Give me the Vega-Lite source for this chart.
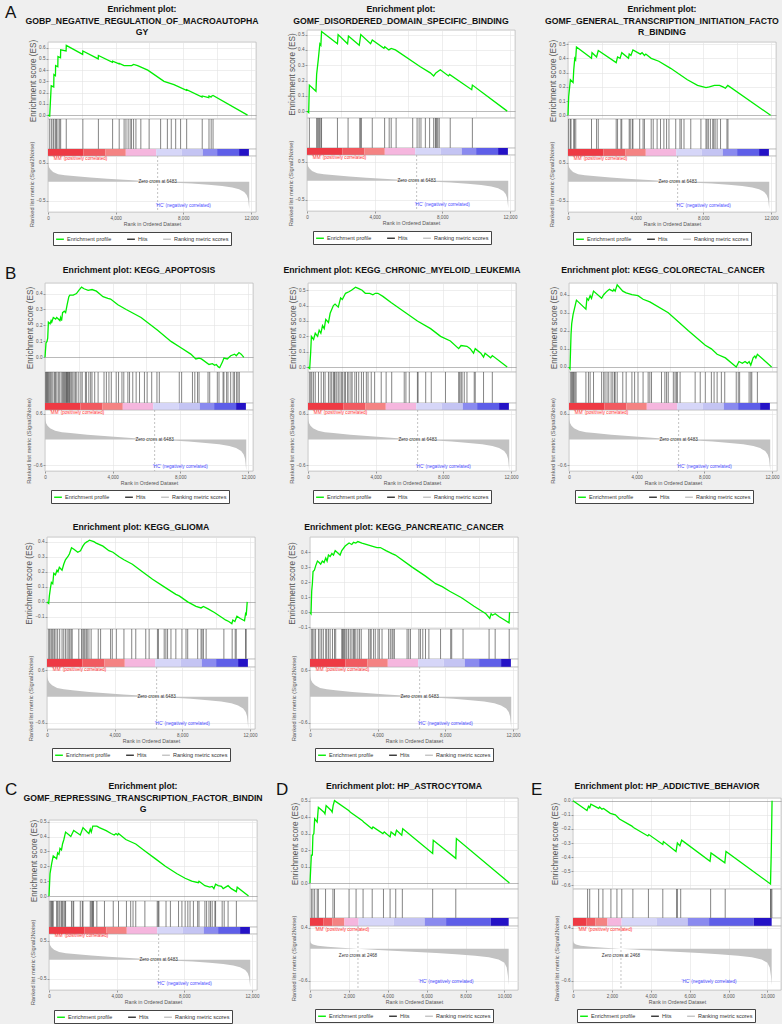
{
"$schema": "https://vega.github.io/schema/vega-lite/v6.json",
"background": "#efefef",
"padding": {"left": 4, "top": 3, "right": 0, "bottom": 0},
"spacing": 18,
"align": "none",
"config": {
  "font": "Liberation Sans",
  "view": {"stroke": "#a8a8a8", "strokeWidth": 0.6, "fill": "#ffffff"},
  "range": {"category": ["#00ee00", "#333333", "#c2c2c2"]},
  "axis": {"labelFontSize": 4.6, "labelColor": "#555555", "titleFontSize": 8.2, "titleColor": "#555555", "titleFontWeight": "normal", "gridColor": "#e2e2e2", "gridWidth": 0.6, "domain": false, "tickColor": "#999999", "tickSize": 2, "labelPadding": 1, "titlePadding": 1.5, "labelOverlap": false, "labelFlush": false},
  "title": {"fontSize": 8.7, "fontWeight": "bold", "lineHeight": 11.5, "offset": 5, "color": "#111111"},
  "legend": {"orient": "bottom", "direction": "horizontal", "symbolType": "stroke", "symbolSize": 60, "symbolStrokeWidth": 1.4, "labelFontSize": 5.5, "labelColor": "#333333", "strokeColor": "#444444", "fillColor": "#ffffff", "padding": 2, "offset": 4, "columnPadding": 12, "labelOffset": 2, "layout": {"bottom": {"anchor": "middle"}}}
},
"datasets": {
"cbar": [
{"g":"12k","a":0,"b":2100,"lv":1},{"g":"12k","a":2100,"b":3400,"lv":2},{"g":"12k","a":3400,"b":4600,"lv":3},{"g":"12k","a":4600,"b":6400,"lv":4},{"g":"12k","a":6400,"b":7900,"lv":5},{"g":"12k","a":7900,"b":9150,"lv":6},{"g":"12k","a":9150,"b":10000,"lv":7},{"g":"12k","a":10000,"b":11300,"lv":8},{"g":"12k","a":11300,"b":11880,"lv":9},
{"g":"10k","a":0,"b":700,"lv":1},{"g":"10k","a":700,"b":1150,"lv":2},{"g":"10k","a":1150,"b":1770,"lv":3},{"g":"10k","a":1770,"b":2500,"lv":4},{"g":"10k","a":2500,"b":4300,"lv":5},{"g":"10k","a":4300,"b":5900,"lv":6},{"g":"10k","a":5900,"b":7000,"lv":7},{"g":"10k","a":7000,"b":9300,"lv":8},{"g":"10k","a":9300,"b":10220,"lv":9}
],
"metric": [
{"g":"12k","r":0,"m":0.62},{"g":"12k","r":20,"m":0.46},{"g":"12k","r":60,"m":0.38},{"g":"12k","r":150,"m":0.32},{"g":"12k","r":300,"m":0.26},{"g":"12k","r":600,"m":0.2},{"g":"12k","r":1000,"m":0.17},{"g":"12k","r":1500,"m":0.15},{"g":"12k","r":2500,"m":0.11},{"g":"12k","r":3500,"m":0.08},{"g":"12k","r":4500,"m":0.05},{"g":"12k","r":5500,"m":0.025},{"g":"12k","r":6483,"m":0},{"g":"12k","r":7500,"m":-0.025},{"g":"12k","r":8500,"m":-0.05},{"g":"12k","r":9500,"m":-0.08},{"g":"12k","r":10300,"m":-0.11},{"g":"12k","r":10900,"m":-0.15},{"g":"12k","r":11300,"m":-0.2},{"g":"12k","r":11600,"m":-0.27},{"g":"12k","r":11750,"m":-0.35},{"g":"12k","r":11830,"m":-0.45},{"g":"12k","r":11870,"m":-0.6},{"g":"12k","r":11900,"m":-0.72},
{"g":"10k","r":0,"m":0.15},{"g":"10k","r":40,"m":0.11},{"g":"10k","r":150,"m":0.08},{"g":"10k","r":400,"m":0.06},{"g":"10k","r":900,"m":0.04},{"g":"10k","r":1600,"m":0.02},{"g":"10k","r":2468,"m":0},{"g":"10k","r":3500,"m":-0.02},{"g":"10k","r":4500,"m":-0.04},{"g":"10k","r":5500,"m":-0.06},{"g":"10k","r":6500,"m":-0.08},{"g":"10k","r":7500,"m":-0.1},{"g":"10k","r":8500,"m":-0.13},{"g":"10k","r":9200,"m":-0.16},{"g":"10k","r":9700,"m":-0.2},{"g":"10k","r":10000,"m":-0.26},{"g":"10k","r":10120,"m":-0.35},{"g":"10k","r":10180,"m":-0.5},{"g":"10k","r":10220,"m":-0.68}
],
"ann": [
{"g":"12k","k":"pos","r":1900,"m":0.61,"t":"'MM' (positively correlated)"},
{"g":"12k","k":"zero","r":6483,"m":-0.01,"t":"Zero cross at 6483"},
{"g":"12k","k":"neg","r":8000,"m":-0.63,"t":"'HC' (negatively correlated)"},
{"g":"10k","k":"pos","r":1650,"m":0.36,"t":"'MM' (positively correlated)"},
{"g":"10k","k":"zero","r":2468,"m":-0.14,"t":"Zero cross at 2468"},
{"g":"10k","k":"neg","r":7000,"m":-0.63,"t":"'HC' (negatively correlated)"}
],
"es": [
{"p":"A1","r":0,"e":0},{"p":"A1","r":100,"e":-0.01},{"p":"A1","r":190,"e":0.26},{"p":"A1","r":340,"e":0.25},{"p":"A1","r":350,"e":0.36},{"p":"A1","r":440,"e":0.35},{"p":"A1","r":450,"e":0.44},{"p":"A1","r":580,"e":0.43},{"p":"A1","r":590,"e":0.52},{"p":"A1","r":740,"e":0.51},{"p":"A1","r":750,"e":0.58},{"p":"A1","r":1070,"e":0.57},{"p":"A1","r":1080,"e":0.62},{"p":"A1","r":2050,"e":0.54},{"p":"A1","r":2060,"e":0.57},{"p":"A1","r":2970,"e":0.5},{"p":"A1","r":2980,"e":0.53},{"p":"A1","r":3810,"e":0.47},{"p":"A1","r":3820,"e":0.48},{"p":"A1","r":4200,"e":0.455},{"p":"A1","r":4210,"e":0.46},{"p":"A1","r":4500,"e":0.44},{"p":"A1","r":4950,"e":0.44},{"p":"A1","r":5060,"e":0.45},{"p":"A1","r":5300,"e":0.44},{"p":"A1","r":5900,"e":0.4},{"p":"A1","r":6860,"e":0.3},{"p":"A1","r":7450,"e":0.27},{"p":"A1","r":8190,"e":0.22},{"p":"A1","r":8200,"e":0.225},{"p":"A1","r":9110,"e":0.16},{"p":"A1","r":9120,"e":0.17},{"p":"A1","r":9510,"e":0.155},{"p":"A1","r":9520,"e":0.17},{"p":"A1","r":9640,"e":0.16},{"p":"A1","r":9650,"e":0.165},{"p":"A1","r":9760,"e":0.175},{"p":"A1","r":11800,"e":0},
{"p":"A2","r":0,"e":0},{"p":"A2","r":100,"e":-0.01},{"p":"A2","r":140,"e":0.17},{"p":"A2","r":530,"e":0.13},{"p":"A2","r":570,"e":0.24},{"p":"A2","r":670,"e":0.34},{"p":"A2","r":760,"e":0.44},{"p":"A2","r":820,"e":0.43},{"p":"A2","r":860,"e":0.52},{"p":"A2","r":1800,"e":0.44},{"p":"A2","r":1840,"e":0.5},{"p":"A2","r":2400,"e":0.44},{"p":"A2","r":2450,"e":0.49},{"p":"A2","r":3090,"e":0.43},{"p":"A2","r":3180,"e":0.5},{"p":"A2","r":3760,"e":0.44},{"p":"A2","r":3860,"e":0.465},{"p":"A2","r":4550,"e":0.41},{"p":"A2","r":4600,"e":0.42},{"p":"A2","r":4840,"e":0.4},{"p":"A2","r":4980,"e":0.41},{"p":"A2","r":5230,"e":0.4},{"p":"A2","r":6700,"e":0.29},{"p":"A2","r":7290,"e":0.25},{"p":"A2","r":7490,"e":0.23},{"p":"A2","r":7620,"e":0.25},{"p":"A2","r":7880,"e":0.27},{"p":"A2","r":8370,"e":0.23},{"p":"A2","r":8430,"e":0.24},{"p":"A2","r":9740,"e":0.14},{"p":"A2","r":9780,"e":0.17},{"p":"A2","r":11840,"e":0},
{"p":"A3","r":0,"e":0},{"p":"A3","r":40,"e":0.13},{"p":"A3","r":140,"e":0.25},{"p":"A3","r":300,"e":0.23},{"p":"A3","r":340,"e":0.32},{"p":"A3","r":400,"e":0.4},{"p":"A3","r":450,"e":0.39},{"p":"A3","r":500,"e":0.48},{"p":"A3","r":1390,"e":0.4},{"p":"A3","r":1420,"e":0.44},{"p":"A3","r":1690,"e":0.41},{"p":"A3","r":1790,"e":0.455},{"p":"A3","r":2850,"e":0.37},{"p":"A3","r":2930,"e":0.41},{"p":"A3","r":3080,"e":0.4},{"p":"A3","r":3180,"e":0.44},{"p":"A3","r":3580,"e":0.4},{"p":"A3","r":3620,"e":0.43},{"p":"A3","r":3720,"e":0.42},{"p":"A3","r":3840,"e":0.46},{"p":"A3","r":4280,"e":0.43},{"p":"A3","r":4380,"e":0.44},{"p":"A3","r":4520,"e":0.42},{"p":"A3","r":4600,"e":0.43},{"p":"A3","r":4920,"e":0.4},{"p":"A3","r":5370,"e":0.38},{"p":"A3","r":6070,"e":0.33},{"p":"A3","r":7060,"e":0.25},{"p":"A3","r":7660,"e":0.21},{"p":"A3","r":8160,"e":0.195},{"p":"A3","r":8360,"e":0.2},{"p":"A3","r":8660,"e":0.21},{"p":"A3","r":8960,"e":0.21},{"p":"A3","r":9160,"e":0.2},{"p":"A3","r":9310,"e":0.19},{"p":"A3","r":9450,"e":0.21},{"p":"A3","r":11980,"e":0},
{"p":"B1","r":0,"e":0},{"p":"B1","r":60,"e":0.09},{"p":"B1","r":120,"e":0.1},{"p":"B1","r":160,"e":0.12},{"p":"B1","r":200,"e":0.22},{"p":"B1","r":300,"e":0.21},{"p":"B1","r":360,"e":0.23},{"p":"B1","r":400,"e":0.22},{"p":"B1","r":490,"e":0.25},{"p":"B1","r":630,"e":0.24},{"p":"B1","r":690,"e":0.25},{"p":"B1","r":790,"e":0.24},{"p":"B1","r":880,"e":0.23},{"p":"B1","r":920,"e":0.25},{"p":"B1","r":980,"e":0.23},{"p":"B1","r":1040,"e":0.28},{"p":"B1","r":1140,"e":0.29},{"p":"B1","r":1220,"e":0.28},{"p":"B1","r":1310,"e":0.33},{"p":"B1","r":1410,"e":0.38},{"p":"B1","r":1470,"e":0.39},{"p":"B1","r":1670,"e":0.39},{"p":"B1","r":1860,"e":0.4},{"p":"B1","r":2000,"e":0.42},{"p":"B1","r":2160,"e":0.44},{"p":"B1","r":2310,"e":0.43},{"p":"B1","r":2550,"e":0.42},{"p":"B1","r":2780,"e":0.425},{"p":"B1","r":3040,"e":0.415},{"p":"B1","r":3430,"e":0.38},{"p":"B1","r":3720,"e":0.37},{"p":"B1","r":3880,"e":0.365},{"p":"B1","r":4310,"e":0.33},{"p":"B1","r":4800,"e":0.3},{"p":"B1","r":5680,"e":0.25},{"p":"B1","r":6660,"e":0.17},{"p":"B1","r":7450,"e":0.1},{"p":"B1","r":8040,"e":0.06},{"p":"B1","r":8620,"e":0.02},{"p":"B1","r":8920,"e":-0.01},{"p":"B1","r":9110,"e":-0.005},{"p":"B1","r":9250,"e":-0.01},{"p":"B1","r":9700,"e":-0.045},{"p":"B1","r":9900,"e":-0.04},{"p":"B1","r":10030,"e":-0.05},{"p":"B1","r":10130,"e":-0.045},{"p":"B1","r":10250,"e":-0.06},{"p":"B1","r":10330,"e":-0.065},{"p":"B1","r":10490,"e":-0.03},{"p":"B1","r":10580,"e":-0.005},{"p":"B1","r":10780,"e":-0.01},{"p":"B1","r":10980,"e":0.01},{"p":"B1","r":11210,"e":0.02},{"p":"B1","r":11310,"e":0.01},{"p":"B1","r":11470,"e":0.03},{"p":"B1","r":11600,"e":0.02},{"p":"B1","r":11760,"e":0},
{"p":"B2","r":0,"e":0},{"p":"B2","r":100,"e":-0.01},{"p":"B2","r":160,"e":0.1},{"p":"B2","r":200,"e":0.2},{"p":"B2","r":330,"e":0.18},{"p":"B2","r":430,"e":0.22},{"p":"B2","r":570,"e":0.2},{"p":"B2","r":660,"e":0.24},{"p":"B2","r":760,"e":0.22},{"p":"B2","r":860,"e":0.27},{"p":"B2","r":960,"e":0.25},{"p":"B2","r":1050,"e":0.31},{"p":"B2","r":1210,"e":0.29},{"p":"B2","r":1310,"e":0.35},{"p":"B2","r":1500,"e":0.4},{"p":"B2","r":1600,"e":0.41},{"p":"B2","r":1790,"e":0.39},{"p":"B2","r":1930,"e":0.45},{"p":"B2","r":2030,"e":0.44},{"p":"B2","r":2220,"e":0.48},{"p":"B2","r":2420,"e":0.49},{"p":"B2","r":2570,"e":0.5},{"p":"B2","r":2810,"e":0.52},{"p":"B2","r":3000,"e":0.51},{"p":"B2","r":3200,"e":0.5},{"p":"B2","r":3390,"e":0.48},{"p":"B2","r":3650,"e":0.48},{"p":"B2","r":3840,"e":0.47},{"p":"B2","r":3980,"e":0.48},{"p":"B2","r":4130,"e":0.48},{"p":"B2","r":4430,"e":0.46},{"p":"B2","r":4910,"e":0.42},{"p":"B2","r":5690,"e":0.36},{"p":"B2","r":6470,"e":0.3},{"p":"B2","r":7250,"e":0.25},{"p":"B2","r":7840,"e":0.2},{"p":"B2","r":8420,"e":0.17},{"p":"B2","r":8910,"e":0.12},{"p":"B2","r":9050,"e":0.14},{"p":"B2","r":9400,"e":0.135},{"p":"B2","r":9590,"e":0.12},{"p":"B2","r":9790,"e":0.09},{"p":"B2","r":9890,"e":0.12},{"p":"B2","r":10220,"e":0.09},{"p":"B2","r":10380,"e":0.065},{"p":"B2","r":10470,"e":0.09},{"p":"B2","r":10800,"e":0.06},{"p":"B2","r":10900,"e":0.075},{"p":"B2","r":11780,"e":0},
{"p":"B3","r":0,"e":0},{"p":"B3","r":60,"e":-0.01},{"p":"B3","r":120,"e":0.18},{"p":"B3","r":160,"e":0.24},{"p":"B3","r":240,"e":0.29},{"p":"B3","r":340,"e":0.33},{"p":"B3","r":440,"e":0.37},{"p":"B3","r":1000,"e":0.32},{"p":"B3","r":1060,"e":0.38},{"p":"B3","r":1150,"e":0.37},{"p":"B3","r":1250,"e":0.395},{"p":"B3","r":1330,"e":0.38},{"p":"B3","r":1450,"e":0.42},{"p":"B3","r":1930,"e":0.38},{"p":"B3","r":2050,"e":0.4},{"p":"B3","r":2250,"e":0.42},{"p":"B3","r":2390,"e":0.43},{"p":"B3","r":2590,"e":0.42},{"p":"B3","r":2650,"e":0.43},{"p":"B3","r":2730,"e":0.42},{"p":"B3","r":2850,"e":0.455},{"p":"B3","r":3180,"e":0.42},{"p":"B3","r":3380,"e":0.41},{"p":"B3","r":3720,"e":0.4},{"p":"B3","r":4080,"e":0.395},{"p":"B3","r":4380,"e":0.375},{"p":"B3","r":4780,"e":0.36},{"p":"B3","r":5870,"e":0.3},{"p":"B3","r":7060,"e":0.2},{"p":"B3","r":8060,"e":0.12},{"p":"B3","r":8420,"e":0.1},{"p":"B3","r":8760,"e":0.07},{"p":"B3","r":9250,"e":0.05},{"p":"B3","r":9890,"e":0},{"p":"B3","r":10050,"e":0.03},{"p":"B3","r":10250,"e":0.02},{"p":"B3","r":10410,"e":0.03},{"p":"B3","r":10550,"e":0.02},{"p":"B3","r":10650,"e":0.03},{"p":"B3","r":10750,"e":0.01},{"p":"B3","r":10890,"e":0.05},{"p":"B3","r":10990,"e":0.06},{"p":"B3","r":11050,"e":0.05},{"p":"B3","r":11140,"e":0.07},{"p":"B3","r":11980,"e":0},
{"p":"B4","r":0,"e":0},{"p":"B4","r":100,"e":-0.01},{"p":"B4","r":140,"e":0.04},{"p":"B4","r":200,"e":0.09},{"p":"B4","r":260,"e":0.13},{"p":"B4","r":340,"e":0.12},{"p":"B4","r":400,"e":0.19},{"p":"B4","r":500,"e":0.18},{"p":"B4","r":590,"e":0.21},{"p":"B4","r":650,"e":0.2},{"p":"B4","r":730,"e":0.23},{"p":"B4","r":890,"e":0.21},{"p":"B4","r":990,"e":0.25},{"p":"B4","r":1090,"e":0.28},{"p":"B4","r":1230,"e":0.3},{"p":"B4","r":1330,"e":0.32},{"p":"B4","r":1450,"e":0.36},{"p":"B4","r":1590,"e":0.35},{"p":"B4","r":1820,"e":0.33},{"p":"B4","r":1980,"e":0.34},{"p":"B4","r":2120,"e":0.37},{"p":"B4","r":2240,"e":0.39},{"p":"B4","r":2380,"e":0.4},{"p":"B4","r":2510,"e":0.41},{"p":"B4","r":2770,"e":0.4},{"p":"B4","r":2910,"e":0.39},{"p":"B4","r":3310,"e":0.37},{"p":"B4","r":3660,"e":0.34},{"p":"B4","r":3900,"e":0.33},{"p":"B4","r":4260,"e":0.3},{"p":"B4","r":4550,"e":0.28},{"p":"B4","r":5050,"e":0.25},{"p":"B4","r":5640,"e":0.2},{"p":"B4","r":6240,"e":0.15},{"p":"B4","r":6930,"e":0.1},{"p":"B4","r":7620,"e":0.05},{"p":"B4","r":7820,"e":0.04},{"p":"B4","r":8320,"e":0},{"p":"B4","r":8810,"e":-0.03},{"p":"B4","r":9110,"e":-0.04},{"p":"B4","r":9250,"e":-0.03},{"p":"B4","r":9500,"e":-0.045},{"p":"B4","r":9900,"e":-0.07},{"p":"B4","r":10430,"e":-0.11},{"p":"B4","r":10550,"e":-0.12},{"p":"B4","r":10750,"e":-0.13},{"p":"B4","r":10930,"e":-0.145},{"p":"B4","r":10990,"e":-0.12},{"p":"B4","r":11110,"e":-0.13},{"p":"B4","r":11230,"e":-0.095},{"p":"B4","r":11430,"e":-0.11},{"p":"B4","r":11680,"e":-0.125},{"p":"B4","r":11740,"e":-0.08},{"p":"B4","r":11780,"e":-0.09},{"p":"B4","r":11840,"e":0},
{"p":"B5","r":0,"e":0},{"p":"B5","r":60,"e":-0.01},{"p":"B5","r":100,"e":0.14},{"p":"B5","r":140,"e":0.19},{"p":"B5","r":180,"e":0.27},{"p":"B5","r":260,"e":0.28},{"p":"B5","r":340,"e":0.31},{"p":"B5","r":440,"e":0.34},{"p":"B5","r":540,"e":0.33},{"p":"B5","r":630,"e":0.32},{"p":"B5","r":730,"e":0.34},{"p":"B5","r":830,"e":0.33},{"p":"B5","r":930,"e":0.36},{"p":"B5","r":1010,"e":0.34},{"p":"B5","r":1090,"e":0.38},{"p":"B5","r":1190,"e":0.37},{"p":"B5","r":1290,"e":0.39},{"p":"B5","r":1390,"e":0.38},{"p":"B5","r":1490,"e":0.41},{"p":"B5","r":1680,"e":0.39},{"p":"B5","r":1780,"e":0.38},{"p":"B5","r":1880,"e":0.41},{"p":"B5","r":2080,"e":0.44},{"p":"B5","r":2310,"e":0.46},{"p":"B5","r":2470,"e":0.45},{"p":"B5","r":2570,"e":0.465},{"p":"B5","r":2710,"e":0.46},{"p":"B5","r":2830,"e":0.47},{"p":"B5","r":3070,"e":0.46},{"p":"B5","r":3370,"e":0.45},{"p":"B5","r":3660,"e":0.44},{"p":"B5","r":3960,"e":0.43},{"p":"B5","r":4160,"e":0.43},{"p":"B5","r":4490,"e":0.41},{"p":"B5","r":4850,"e":0.39},{"p":"B5","r":5050,"e":0.38},{"p":"B5","r":6040,"e":0.3},{"p":"B5","r":6830,"e":0.24},{"p":"B5","r":7430,"e":0.19},{"p":"B5","r":7820,"e":0.17},{"p":"B5","r":8260,"e":0.14},{"p":"B5","r":8420,"e":0.13},{"p":"B5","r":8910,"e":0.1},{"p":"B5","r":9050,"e":0.09},{"p":"B5","r":9700,"e":0.04},{"p":"B5","r":10400,"e":-0.01},{"p":"B5","r":10630,"e":-0.04},{"p":"B5","r":10710,"e":-0.01},{"p":"B5","r":10790,"e":-0.02},{"p":"B5","r":10950,"e":-0.01},{"p":"B5","r":11190,"e":-0.03},{"p":"B5","r":11480,"e":-0.05},{"p":"B5","r":11770,"e":-0.07},{"p":"B5","r":11800,"e":0},
{"p":"C","r":0,"e":0},{"p":"C","r":60,"e":0.15},{"p":"C","r":160,"e":0.22},{"p":"C","r":250,"e":0.27},{"p":"C","r":450,"e":0.25},{"p":"C","r":510,"e":0.29},{"p":"C","r":590,"e":0.28},{"p":"C","r":650,"e":0.32},{"p":"C","r":740,"e":0.31},{"p":"C","r":800,"e":0.35},{"p":"C","r":880,"e":0.38},{"p":"C","r":980,"e":0.43},{"p":"C","r":1190,"e":0.41},{"p":"C","r":1290,"e":0.4},{"p":"C","r":1460,"e":0.44},{"p":"C","r":1720,"e":0.42},{"p":"C","r":1850,"e":0.41},{"p":"C","r":2010,"e":0.46},{"p":"C","r":2260,"e":0.43},{"p":"C","r":2360,"e":0.42},{"p":"C","r":2440,"e":0.45},{"p":"C","r":2500,"e":0.43},{"p":"C","r":2590,"e":0.47},{"p":"C","r":2830,"e":0.47},{"p":"C","r":2980,"e":0.46},{"p":"C","r":3180,"e":0.45},{"p":"C","r":3380,"e":0.44},{"p":"C","r":3670,"e":0.42},{"p":"C","r":3860,"e":0.41},{"p":"C","r":3960,"e":0.42},{"p":"C","r":4060,"e":0.41},{"p":"C","r":4110,"e":0.42},{"p":"C","r":4540,"e":0.38},{"p":"C","r":5130,"e":0.35},{"p":"C","r":5710,"e":0.3},{"p":"C","r":6300,"e":0.25},{"p":"C","r":6880,"e":0.2},{"p":"C","r":7570,"e":0.15},{"p":"C","r":8050,"e":0.12},{"p":"C","r":8440,"e":0.1},{"p":"C","r":8830,"e":0.09},{"p":"C","r":8870,"e":0.1},{"p":"C","r":9220,"e":0.07},{"p":"C","r":9510,"e":0.06},{"p":"C","r":9650,"e":0.065},{"p":"C","r":9750,"e":0.05},{"p":"C","r":9850,"e":0.08},{"p":"C","r":10000,"e":0.07},{"p":"C","r":10200,"e":0.065},{"p":"C","r":10300,"e":0.05},{"p":"C","r":10590,"e":0.07},{"p":"C","r":10780,"e":0.05},{"p":"C","r":11080,"e":0.03},{"p":"C","r":11130,"e":0.06},{"p":"C","r":11800,"e":0},
{"p":"D","r":0,"e":0},{"p":"D","r":70,"e":0.17},{"p":"D","r":120,"e":0.17},{"p":"D","r":150,"e":0.29},{"p":"D","r":200,"e":0.3},{"p":"D","r":240,"e":0.39},{"p":"D","r":370,"e":0.37},{"p":"D","r":430,"e":0.46},{"p":"D","r":720,"e":0.43},{"p":"D","r":770,"e":0.42},{"p":"D","r":830,"e":0.47},{"p":"D","r":1090,"e":0.44},{"p":"D","r":1140,"e":0.43},{"p":"D","r":1190,"e":0.47},{"p":"D","r":1260,"e":0.5},{"p":"D","r":1990,"e":0.44},{"p":"D","r":2080,"e":0.43},{"p":"D","r":2680,"e":0.38},{"p":"D","r":2760,"e":0.37},{"p":"D","r":3190,"e":0.33},{"p":"D","r":3240,"e":0.34},{"p":"D","r":3750,"e":0.3},{"p":"D","r":3820,"e":0.31},{"p":"D","r":4120,"e":0.28},{"p":"D","r":4170,"e":0.31},{"p":"D","r":4380,"e":0.29},{"p":"D","r":4450,"e":0.32},{"p":"D","r":4720,"e":0.29},{"p":"D","r":4770,"e":0.33},{"p":"D","r":6310,"e":0.18},{"p":"D","r":6340,"e":0.26},{"p":"D","r":7500,"e":0.15},{"p":"D","r":7530,"e":0.27},{"p":"D","r":10260,"e":0},
{"p":"E","r":0,"e":0},{"p":"E","r":720,"e":-0.07},{"p":"E","r":800,"e":-0.04},{"p":"E","r":860,"e":-0.05},{"p":"E","r":920,"e":-0.025},{"p":"E","r":1320,"e":-0.055},{"p":"E","r":1370,"e":-0.045},{"p":"E","r":1490,"e":-0.06},{"p":"E","r":1570,"e":-0.055},{"p":"E","r":1920,"e":-0.09},{"p":"E","r":2180,"e":-0.1},{"p":"E","r":2390,"e":-0.13},{"p":"E","r":3030,"e":-0.18},{"p":"E","r":3110,"e":-0.19},{"p":"E","r":3850,"e":-0.25},{"p":"E","r":3900,"e":-0.24},{"p":"E","r":4620,"e":-0.31},{"p":"E","r":4650,"e":-0.29},{"p":"E","r":5300,"e":-0.36},{"p":"E","r":5370,"e":-0.3},{"p":"E","r":5500,"e":-0.32},{"p":"E","r":5590,"e":-0.28},{"p":"E","r":7050,"e":-0.43},{"p":"E","r":7100,"e":-0.37},{"p":"E","r":7810,"e":-0.44},{"p":"E","r":7870,"e":-0.36},{"p":"E","r":10160,"e":-0.59},{"p":"E","r":10200,"e":-0.36},{"p":"E","r":10240,"e":0}
],
"hits": [
{"p":"A1","r":100},{"p":"A1","r":200},{"p":"A1","r":300},{"p":"A1","r":350},{"p":"A1","r":450},{"p":"A1","r":500},{"p":"A1","r":590},{"p":"A1","r":690},{"p":"A1","r":750},{"p":"A1","r":1080},{"p":"A1","r":2060},{"p":"A1","r":2980},{"p":"A1","r":3820},{"p":"A1","r":4210},{"p":"A1","r":4500},{"p":"A1","r":4610},{"p":"A1","r":4740},{"p":"A1","r":4860},{"p":"A1","r":4940},{"p":"A1","r":5060},{"p":"A1","r":5200},{"p":"A1","r":5490},{"p":"A1","r":5980},{"p":"A1","r":6660},{"p":"A1","r":7060},{"p":"A1","r":7290},{"p":"A1","r":7550},{"p":"A1","r":7840},{"p":"A1","r":8200},{"p":"A1","r":9120},{"p":"A1","r":9520},{"p":"A1","r":9650},{"p":"A1","r":9760},
{"p":"A2","r":140},{"p":"A2","r":570},{"p":"A2","r":630},{"p":"A2","r":690},{"p":"A2","r":745},{"p":"A2","r":820},{"p":"A2","r":860},{"p":"A2","r":1800},{"p":"A2","r":2430},{"p":"A2","r":3120},{"p":"A2","r":3180},{"p":"A2","r":3210},{"p":"A2","r":3860},{"p":"A2","r":4590},{"p":"A2","r":4860},{"p":"A2","r":4980},{"p":"A2","r":5270},{"p":"A2","r":6250},{"p":"A2","r":6510},{"p":"A2","r":6630},{"p":"A2","r":6740},{"p":"A2","r":7000},{"p":"A2","r":7250},{"p":"A2","r":7490},{"p":"A2","r":7590},{"p":"A2","r":7630},{"p":"A2","r":7680},{"p":"A2","r":7740},{"p":"A2","r":7820},{"p":"A2","r":8470},{"p":"A2","r":9780},
{"p":"A3","r":40},{"p":"A3","r":140},{"p":"A3","r":180},{"p":"A3","r":340},{"p":"A3","r":380},{"p":"A3","r":460},{"p":"A3","r":1390},{"p":"A3","r":1690},{"p":"A3","r":1790},{"p":"A3","r":2850},{"p":"A3","r":2930},{"p":"A3","r":3130},{"p":"A3","r":3180},{"p":"A3","r":3620},{"p":"A3","r":3680},{"p":"A3","r":3800},{"p":"A3","r":3840},{"p":"A3","r":4240},{"p":"A3","r":4440},{"p":"A3","r":4520},{"p":"A3","r":4920},{"p":"A3","r":5040},{"p":"A3","r":5270},{"p":"A3","r":5470},{"p":"A3","r":5670},{"p":"A3","r":5830},{"p":"A3","r":5970},{"p":"A3","r":6370},{"p":"A3","r":6620},{"p":"A3","r":6700},{"p":"A3","r":6860},{"p":"A3","r":7260},{"p":"A3","r":7860},{"p":"A3","r":8160},{"p":"A3","r":8220},{"p":"A3","r":8300},{"p":"A3","r":8420},{"p":"A3","r":8560},{"p":"A3","r":8620},{"p":"A3","r":8700},{"p":"A3","r":8820},{"p":"A3","r":9020},{"p":"A3","r":9400},{"p":"A3","r":9460},
{"p":"B1","r":40},{"p":"B1","r":80},{"p":"B1","r":120},{"p":"B1","r":160},{"p":"B1","r":200},{"p":"B1","r":260},{"p":"B1","r":330},{"p":"B1","r":400},{"p":"B1","r":470},{"p":"B1","r":560},{"p":"B1","r":620},{"p":"B1","r":700},{"p":"B1","r":790},{"p":"B1","r":870},{"p":"B1","r":960},{"p":"B1","r":1040},{"p":"B1","r":1100},{"p":"B1","r":1150},{"p":"B1","r":1220},{"p":"B1","r":1260},{"p":"B1","r":1290},{"p":"B1","r":1320},{"p":"B1","r":1360},{"p":"B1","r":1400},{"p":"B1","r":1450},{"p":"B1","r":1490},{"p":"B1","r":1560},{"p":"B1","r":1640},{"p":"B1","r":1720},{"p":"B1","r":1800},{"p":"B1","r":1880},{"p":"B1","r":2000},{"p":"B1","r":2120},{"p":"B1","r":2200},{"p":"B1","r":2390},{"p":"B1","r":2450},{"p":"B1","r":2590},{"p":"B1","r":2700},{"p":"B1","r":2780},{"p":"B1","r":2940},{"p":"B1","r":3140},{"p":"B1","r":3490},{"p":"B1","r":3630},{"p":"B1","r":3780},{"p":"B1","r":3920},{"p":"B1","r":4210},{"p":"B1","r":4350},{"p":"B1","r":4550},{"p":"B1","r":4660},{"p":"B1","r":4900},{"p":"B1","r":5000},{"p":"B1","r":5190},{"p":"B1","r":5390},{"p":"B1","r":5590},{"p":"B1","r":5880},{"p":"B1","r":6040},{"p":"B1","r":6310},{"p":"B1","r":6620},{"p":"B1","r":6760},{"p":"B1","r":7940},{"p":"B1","r":8080},{"p":"B1","r":8720},{"p":"B1","r":8860},{"p":"B1","r":9020},{"p":"B1","r":9110},{"p":"B1","r":9640},{"p":"B1","r":9740},{"p":"B1","r":10190},{"p":"B1","r":10290},{"p":"B1","r":10530},{"p":"B1","r":10580},{"p":"B1","r":10740},{"p":"B1","r":10820},{"p":"B1","r":10980},{"p":"B1","r":11130},{"p":"B1","r":11210},{"p":"B1","r":11330},{"p":"B1","r":11410},{"p":"B1","r":11490},
{"p":"B2","r":100},{"p":"B2","r":170},{"p":"B2","r":230},{"p":"B2","r":330},{"p":"B2","r":430},{"p":"B2","r":620},{"p":"B2","r":780},{"p":"B2","r":920},{"p":"B2","r":1010},{"p":"B2","r":1210},{"p":"B2","r":1310},{"p":"B2","r":1400},{"p":"B2","r":1500},{"p":"B2","r":1560},{"p":"B2","r":1600},{"p":"B2","r":1700},{"p":"B2","r":1790},{"p":"B2","r":1890},{"p":"B2","r":1990},{"p":"B2","r":2050},{"p":"B2","r":2150},{"p":"B2","r":2220},{"p":"B2","r":2340},{"p":"B2","r":2420},{"p":"B2","r":2540},{"p":"B2","r":2610},{"p":"B2","r":2770},{"p":"B2","r":2870},{"p":"B2","r":3000},{"p":"B2","r":3160},{"p":"B2","r":3280},{"p":"B2","r":3450},{"p":"B2","r":3550},{"p":"B2","r":3740},{"p":"B2","r":3940},{"p":"B2","r":4330},{"p":"B2","r":4620},{"p":"B2","r":4950},{"p":"B2","r":5690},{"p":"B2","r":5790},{"p":"B2","r":5990},{"p":"B2","r":6470},{"p":"B2","r":6510},{"p":"B2","r":6960},{"p":"B2","r":7290},{"p":"B2","r":8130},{"p":"B2","r":8910},{"p":"B2","r":8970},{"p":"B2","r":9050},{"p":"B2","r":9110},{"p":"B2","r":9240},{"p":"B2","r":9400},{"p":"B2","r":9830},{"p":"B2","r":9890},{"p":"B2","r":10380},{"p":"B2","r":10900},
{"p":"B3","r":100},{"p":"B3","r":160},{"p":"B3","r":200},{"p":"B3","r":260},{"p":"B3","r":300},{"p":"B3","r":360},{"p":"B3","r":420},{"p":"B3","r":1000},{"p":"B3","r":1150},{"p":"B3","r":1250},{"p":"B3","r":1450},{"p":"B3","r":1930},{"p":"B3","r":2050},{"p":"B3","r":2130},{"p":"B3","r":2250},{"p":"B3","r":2350},{"p":"B3","r":2490},{"p":"B3","r":2590},{"p":"B3","r":2690},{"p":"B3","r":2730},{"p":"B3","r":2850},{"p":"B3","r":3180},{"p":"B3","r":3380},{"p":"B3","r":3720},{"p":"B3","r":3880},{"p":"B3","r":4080},{"p":"B3","r":4380},{"p":"B3","r":4680},{"p":"B3","r":4780},{"p":"B3","r":4880},{"p":"B3","r":5470},{"p":"B3","r":5670},{"p":"B3","r":5770},{"p":"B3","r":5870},{"p":"B3","r":6170},{"p":"B3","r":6270},{"p":"B3","r":6350},{"p":"B3","r":6410},{"p":"B3","r":6570},{"p":"B3","r":7460},{"p":"B3","r":7760},{"p":"B3","r":8060},{"p":"B3","r":8420},{"p":"B3","r":8580},{"p":"B3","r":8760},{"p":"B3","r":9010},{"p":"B3","r":9210},{"p":"B3","r":9890},{"p":"B3","r":10010},{"p":"B3","r":10090},{"p":"B3","r":10650},{"p":"B3","r":10750},{"p":"B3","r":10810},{"p":"B3","r":11140},
{"p":"B4","r":100},{"p":"B4","r":160},{"p":"B4","r":240},{"p":"B4","r":300},{"p":"B4","r":360},{"p":"B4","r":440},{"p":"B4","r":530},{"p":"B4","r":630},{"p":"B4","r":750},{"p":"B4","r":890},{"p":"B4","r":990},{"p":"B4","r":1090},{"p":"B4","r":1190},{"p":"B4","r":1290},{"p":"B4","r":1350},{"p":"B4","r":1430},{"p":"B4","r":1490},{"p":"B4","r":1880},{"p":"B4","r":2040},{"p":"B4","r":2120},{"p":"B4","r":2180},{"p":"B4","r":2240},{"p":"B4","r":2320},{"p":"B4","r":2380},{"p":"B4","r":2480},{"p":"B4","r":2610},{"p":"B4","r":3030},{"p":"B4","r":3170},{"p":"B4","r":3760},{"p":"B4","r":3860},{"p":"B4","r":4100},{"p":"B4","r":4550},{"p":"B4","r":5010},{"p":"B4","r":5250},{"p":"B4","r":5840},{"p":"B4","r":6040},{"p":"B4","r":6530},{"p":"B4","r":6590},{"p":"B4","r":6930},{"p":"B4","r":7030},{"p":"B4","r":7130},{"p":"B4","r":7330},{"p":"B4","r":7620},{"p":"B4","r":7980},{"p":"B4","r":8220},{"p":"B4","r":8320},{"p":"B4","r":8910},{"p":"B4","r":9110},{"p":"B4","r":9170},{"p":"B4","r":9250},{"p":"B4","r":9410},{"p":"B4","r":10460},{"p":"B4","r":10950},{"p":"B4","r":11130},{"p":"B4","r":11190},{"p":"B4","r":11740},{"p":"B4","r":11780},
{"p":"B5","r":100},{"p":"B5","r":160},{"p":"B5","r":240},{"p":"B5","r":330},{"p":"B5","r":500},{"p":"B5","r":590},{"p":"B5","r":690},{"p":"B5","r":790},{"p":"B5","r":930},{"p":"B5","r":990},{"p":"B5","r":1090},{"p":"B5","r":1190},{"p":"B5","r":1330},{"p":"B5","r":1450},{"p":"B5","r":1520},{"p":"B5","r":1880},{"p":"B5","r":1920},{"p":"B5","r":1980},{"p":"B5","r":2040},{"p":"B5","r":2120},{"p":"B5","r":2180},{"p":"B5","r":2280},{"p":"B5","r":2380},{"p":"B5","r":2480},{"p":"B5","r":2570},{"p":"B5","r":2630},{"p":"B5","r":2710},{"p":"B5","r":2830},{"p":"B5","r":2930},{"p":"B5","r":3030},{"p":"B5","r":3470},{"p":"B5","r":3560},{"p":"B5","r":3620},{"p":"B5","r":3760},{"p":"B5","r":3860},{"p":"B5","r":4020},{"p":"B5","r":4100},{"p":"B5","r":4260},{"p":"B5","r":4650},{"p":"B5","r":4750},{"p":"B5","r":4850},{"p":"B5","r":4910},{"p":"B5","r":4990},{"p":"B5","r":5740},{"p":"B5","r":5840},{"p":"B5","r":5940},{"p":"B5","r":6440},{"p":"B5","r":6530},{"p":"B5","r":6670},{"p":"B5","r":6830},{"p":"B5","r":7030},{"p":"B5","r":7720},{"p":"B5","r":8320},{"p":"B5","r":8380},{"p":"B5","r":9050},{"p":"B5","r":10590},{"p":"B5","r":10950},{"p":"B5","r":11780},
{"p":"C","r":60},{"p":"C","r":120},{"p":"C","r":160},{"p":"C","r":210},{"p":"C","r":250},{"p":"C","r":450},{"p":"C","r":510},{"p":"C","r":590},{"p":"C","r":650},{"p":"C","r":740},{"p":"C","r":800},{"p":"C","r":880},{"p":"C","r":940},{"p":"C","r":980},{"p":"C","r":1330},{"p":"C","r":1420},{"p":"C","r":1460},{"p":"C","r":1850},{"p":"C","r":1970},{"p":"C","r":2010},{"p":"C","r":2440},{"p":"C","r":2500},{"p":"C","r":2560},{"p":"C","r":2590},{"p":"C","r":2630},{"p":"C","r":2830},{"p":"C","r":3280},{"p":"C","r":3800},{"p":"C","r":4110},{"p":"C","r":4580},{"p":"C","r":4830},{"p":"C","r":4970},{"p":"C","r":5130},{"p":"C","r":5670},{"p":"C","r":6400},{"p":"C","r":6460},{"p":"C","r":6500},{"p":"C","r":6920},{"p":"C","r":7180},{"p":"C","r":7660},{"p":"C","r":7860},{"p":"C","r":8050},{"p":"C","r":8210},{"p":"C","r":8340},{"p":"C","r":8540},{"p":"C","r":8790},{"p":"C","r":8870},{"p":"C","r":9220},{"p":"C","r":9320},{"p":"C","r":9460},{"p":"C","r":9550},{"p":"C","r":9650},{"p":"C","r":9810},{"p":"C","r":9850},{"p":"C","r":10240},{"p":"C","r":10360},{"p":"C","r":10590},{"p":"C","r":11080},
{"p":"D","r":70},{"p":"D","r":150},{"p":"D","r":240},{"p":"D","r":370},{"p":"D","r":430},{"p":"D","r":800},{"p":"D","r":1180},{"p":"D","r":1260},{"p":"D","r":2010},{"p":"D","r":2370},{"p":"D","r":2730},{"p":"D","r":3200},{"p":"D","r":3780},{"p":"D","r":4120},{"p":"D","r":4410},{"p":"D","r":4750},{"p":"D","r":6310},{"p":"D","r":7500},
{"p":"E","r":750},{"p":"E","r":860},{"p":"E","r":1320},{"p":"E","r":1540},{"p":"E","r":1950},{"p":"E","r":2260},{"p":"E","r":2510},{"p":"E","r":3080},{"p":"E","r":3880},{"p":"E","r":4620},{"p":"E","r":5330},{"p":"E","r":5370},{"p":"E","r":5540},{"p":"E","r":7080},{"p":"E","r":7830},{"p":"E","r":10160},{"p":"E","r":10190},{"p":"E","r":10230}
]
},
"resolve": {"scale": {"color": "independent"}, "legend": {"color": "independent"}},
"vconcat": [
{"spacing": 26, "align": "none", "resolve": {"scale": {"color": "independent"}, "legend": {"color": "independent"}}, "hconcat": [
{"spacing": 7, "align": "none", "resolve": {"scale": {"color": "independent"}, "legend": {"color": "independent"}}, "hconcat": [
{"width": 11, "height": 20, "view": {"stroke": "transparent", "fill": "transparent"}, "title": {"text": "A", "anchor": "start", "baseline": "top", "offset": -17, "fontSize": 17, "fontWeight": "normal", "color": "#111111"}, "data": {"values": []}, "mark": "rule", "encoding": {}},
{"spacing": 0, "bounds": "flush", "vconcat": [
 {"width": 208, "height": 37, "view": {"stroke": "transparent", "fill": "transparent"}, "title": {"text": ["Enrichment plot:", "GOBP_NEGATIVE_REGULATION_OF_MACROAUTOPHA", "GY"], "baseline": "top", "offset": -31.7, "dx": -10}, "data": {"values": []}, "mark": "rule", "encoding": {}},
 {"width": 208, "height": 77, "data": {"name": "es"}, "transform": [{"filter": "datum.p == 'A1'"}], "mark": {"type": "line", "strokeWidth": 1.3},
  "encoding": {"x": {"field": "r", "type": "quantitative", "scale": {"domain": [0, 12300], "nice": false}, "axis": {"values": [0,2000,4000,6000,8000,10000,12000], "labels": false, "ticks": false, "title": null}},
   "y": {"field": "e", "type": "quantitative", "scale": {"domain": [-0.035, 0.65], "nice": false, "zero": false}, "axis": {"values": [0,0.1,0.2,0.3,0.4,0.5,0.6], "format": ".1f", "labelOverlap": false, "title": "Enrichment score (ES)", "gridColor": {"condition": {"test": "datum.value === 0", "value": "#8c8c8c"}, "value": "#e2e2e2"}}},
   "color": {"datum": "Enrichment profile"}}},
 {"width": 208, "height": 30, "data": {"name": "hits"}, "transform": [{"filter": "datum.p == 'A1'"}], "mark": {"type": "rule", "strokeWidth": 0.6},
  "encoding": {"x": {"field": "r", "type": "quantitative", "scale": {"domain": [0, 12300], "nice": false}, "axis": null}, "color": {"datum": "Hits"}}},
 {"width": 208, "height": 7, "data": {"name": "cbar"}, "transform": [{"filter": "datum.g == '12k'"}], "mark": {"type": "rect"},
  "encoding": {"x": {"field": "a", "type": "quantitative", "scale": {"domain": [0, 12300], "nice": false}, "axis": null}, "x2": {"field": "b"}, "fill": {"field": "lv", "type": "ordinal", "scale": {"domain": [1,2,3,4,5,6,7,8,9], "range": ["#ee3a44","#f15a60","#f48383","#f5b6de","#d6d6f8","#c4c4f3","#8a8aef","#5e5ee8","#2412c6"]}, "legend": null}}},
 {"width": 208, "height": 56, "layer": [
  {"data": {"name": "metric"}, "transform": [{"filter": "datum.g == '12k'"}], "mark": {"type": "area"},
   "encoding": {"x": {"field": "r", "type": "quantitative", "scale": {"domain": [0, 12300], "nice": false}, "axis": {"values": [0,2000,4000,6000,8000,10000,12000], "format": ",d", "labelOverlap": false, "title": "Rank in Ordered Dataset", "titleFontSize": 5.2}},
    "y": {"field": "m", "type": "quantitative", "scale": {"domain": [-0.8, 0.68], "nice": false, "zero": false}, "axis": {"values": [-0.5,0,0.5], "format": ".1f", "labelOverlap": false, "title": "Ranked list metric (Signal2Noise)", "titleFontSize": 5.8, "gridColor": {"condition": {"test": "datum.value === 0", "value": "#8c8c8c"}, "value": "#e2e2e2"}}},
    "color": {"datum": "Ranking metric scores"}}},
  {"data": {"name": "ann"}, "transform": [{"filter": "datum.g == '12k' && datum.k == 'zero'"}], "mark": {"type": "rule", "strokeDash": [2, 2], "color": "#9a9a9a", "strokeWidth": 0.6}, "encoding": {"x": {"field": "r", "type": "quantitative"}}},
  {"data": {"name": "ann"}, "transform": [{"filter": "datum.g == '12k'"}], "mark": {"type": "text", "fontSize": 4.6},
   "encoding": {"x": {"field": "r", "type": "quantitative"}, "y": {"field": "m", "type": "quantitative"}, "text": {"field": "t"}, "color": {"condition": [{"test": "datum.k == 'pos'", "value": "#ff3030"}, {"test": "datum.k == 'neg'", "value": "#4a4aff"}], "value": "#333333"}}}
 ]}
]}
]},
{"spacing": 0, "bounds": "flush", "vconcat": [
 {"width": 208, "height": 25, "view": {"stroke": "transparent", "fill": "transparent"}, "title": {"text": ["Enrichment plot:", "GOMF_DISORDERED_DOMAIN_SPECIFIC_BINDING"], "baseline": "top", "offset": -20.2, "dx": -10}, "data": {"values": []}, "mark": "rule", "encoding": {}},
 {"width": 208, "height": 88, "data": {"name": "es"}, "transform": [{"filter": "datum.p == 'A2'"}], "mark": {"type": "line", "strokeWidth": 1.3},
  "encoding": {"x": {"field": "r", "type": "quantitative", "scale": {"domain": [0, 12300], "nice": false}, "axis": {"values": [0,2000,4000,6000,8000,10000,12000], "labels": false, "ticks": false, "title": null}},
   "y": {"field": "e", "type": "quantitative", "scale": {"domain": [-0.045, 0.53], "nice": false, "zero": false}, "axis": {"values": [0,0.1,0.2,0.3,0.4,0.5], "format": ".1f", "labelOverlap": false, "title": "Enrichment score (ES)", "gridColor": {"condition": {"test": "datum.value === 0", "value": "#8c8c8c"}, "value": "#e2e2e2"}}},
   "color": {"datum": "Enrichment profile"}}},
 {"width": 208, "height": 30, "data": {"name": "hits"}, "transform": [{"filter": "datum.p == 'A2'"}], "mark": {"type": "rule", "strokeWidth": 0.6},
  "encoding": {"x": {"field": "r", "type": "quantitative", "scale": {"domain": [0, 12300], "nice": false}, "axis": null}, "color": {"datum": "Hits"}}},
 {"width": 208, "height": 7, "data": {"name": "cbar"}, "transform": [{"filter": "datum.g == '12k'"}], "mark": {"type": "rect"},
  "encoding": {"x": {"field": "a", "type": "quantitative", "scale": {"domain": [0, 12300], "nice": false}, "axis": null}, "x2": {"field": "b"}, "fill": {"field": "lv", "type": "ordinal", "scale": {"domain": [1,2,3,4,5,6,7,8,9], "range": ["#ee3a44","#f15a60","#f48383","#f5b6de","#d6d6f8","#c4c4f3","#8a8aef","#5e5ee8","#2412c6"]}, "legend": null}}},
 {"width": 208, "height": 56, "layer": [
  {"data": {"name": "metric"}, "transform": [{"filter": "datum.g == '12k'"}], "mark": {"type": "area"},
   "encoding": {"x": {"field": "r", "type": "quantitative", "scale": {"domain": [0, 12300], "nice": false}, "axis": {"values": [0,2000,4000,6000,8000,10000,12000], "format": ",d", "labelOverlap": false, "title": "Rank in Ordered Dataset", "titleFontSize": 5.2}},
    "y": {"field": "m", "type": "quantitative", "scale": {"domain": [-0.8, 0.68], "nice": false, "zero": false}, "axis": {"values": [-0.5,0,0.5], "format": ".1f", "labelOverlap": false, "title": "Ranked list metric (Signal2Noise)", "titleFontSize": 5.8, "gridColor": {"condition": {"test": "datum.value === 0", "value": "#8c8c8c"}, "value": "#e2e2e2"}}},
    "color": {"datum": "Ranking metric scores"}}},
  {"data": {"name": "ann"}, "transform": [{"filter": "datum.g == '12k' && datum.k == 'zero'"}], "mark": {"type": "rule", "strokeDash": [2, 2], "color": "#9a9a9a", "strokeWidth": 0.6}, "encoding": {"x": {"field": "r", "type": "quantitative"}}},
  {"data": {"name": "ann"}, "transform": [{"filter": "datum.g == '12k'"}], "mark": {"type": "text", "fontSize": 4.6},
   "encoding": {"x": {"field": "r", "type": "quantitative"}, "y": {"field": "m", "type": "quantitative"}, "text": {"field": "t"}, "color": {"condition": [{"test": "datum.k == 'pos'", "value": "#ff3030"}, {"test": "datum.k == 'neg'", "value": "#4a4aff"}], "value": "#333333"}}}
 ]}
]},
{"spacing": 0, "bounds": "flush", "vconcat": [
 {"width": 208, "height": 37, "view": {"stroke": "transparent", "fill": "transparent"}, "title": {"text": ["Enrichment plot:", "GOMF_GENERAL_TRANSCRIPTION_INITIATION_FACTO", "R_BINDING"], "baseline": "top", "offset": -31.7, "dx": -10}, "data": {"values": []}, "mark": "rule", "encoding": {}},
 {"width": 208, "height": 77, "data": {"name": "es"}, "transform": [{"filter": "datum.p == 'A3'"}], "mark": {"type": "line", "strokeWidth": 1.3},
  "encoding": {"x": {"field": "r", "type": "quantitative", "scale": {"domain": [0, 12300], "nice": false}, "axis": {"values": [0,2000,4000,6000,8000,10000,12000], "labels": false, "ticks": false, "title": null}},
   "y": {"field": "e", "type": "quantitative", "scale": {"domain": [-0.026, 0.515], "nice": false, "zero": false}, "axis": {"values": [0,0.1,0.2,0.3,0.4,0.5], "format": ".1f", "labelOverlap": false, "title": "Enrichment score (ES)", "gridColor": {"condition": {"test": "datum.value === 0", "value": "#8c8c8c"}, "value": "#e2e2e2"}}},
   "color": {"datum": "Enrichment profile"}}},
 {"width": 208, "height": 30, "data": {"name": "hits"}, "transform": [{"filter": "datum.p == 'A3'"}], "mark": {"type": "rule", "strokeWidth": 0.6},
  "encoding": {"x": {"field": "r", "type": "quantitative", "scale": {"domain": [0, 12300], "nice": false}, "axis": null}, "color": {"datum": "Hits"}}},
 {"width": 208, "height": 7, "data": {"name": "cbar"}, "transform": [{"filter": "datum.g == '12k'"}], "mark": {"type": "rect"},
  "encoding": {"x": {"field": "a", "type": "quantitative", "scale": {"domain": [0, 12300], "nice": false}, "axis": null}, "x2": {"field": "b"}, "fill": {"field": "lv", "type": "ordinal", "scale": {"domain": [1,2,3,4,5,6,7,8,9], "range": ["#ee3a44","#f15a60","#f48383","#f5b6de","#d6d6f8","#c4c4f3","#8a8aef","#5e5ee8","#2412c6"]}, "legend": null}}},
 {"width": 208, "height": 56, "layer": [
  {"data": {"name": "metric"}, "transform": [{"filter": "datum.g == '12k'"}], "mark": {"type": "area"},
   "encoding": {"x": {"field": "r", "type": "quantitative", "scale": {"domain": [0, 12300], "nice": false}, "axis": {"values": [0,2000,4000,6000,8000,10000,12000], "format": ",d", "labelOverlap": false, "title": "Rank in Ordered Dataset", "titleFontSize": 5.2}},
    "y": {"field": "m", "type": "quantitative", "scale": {"domain": [-0.8, 0.68], "nice": false, "zero": false}, "axis": {"values": [-0.5,0,0.5], "format": ".1f", "labelOverlap": false, "title": "Ranked list metric (Signal2Noise)", "titleFontSize": 5.8, "gridColor": {"condition": {"test": "datum.value === 0", "value": "#8c8c8c"}, "value": "#e2e2e2"}}},
    "color": {"datum": "Ranking metric scores"}}},
  {"data": {"name": "ann"}, "transform": [{"filter": "datum.g == '12k' && datum.k == 'zero'"}], "mark": {"type": "rule", "strokeDash": [2, 2], "color": "#9a9a9a", "strokeWidth": 0.6}, "encoding": {"x": {"field": "r", "type": "quantitative"}}},
  {"data": {"name": "ann"}, "transform": [{"filter": "datum.g == '12k'"}], "mark": {"type": "text", "fontSize": 4.6},
   "encoding": {"x": {"field": "r", "type": "quantitative"}, "y": {"field": "m", "type": "quantitative"}, "text": {"field": "t"}, "color": {"condition": [{"test": "datum.k == 'pos'", "value": "#ff3030"}, {"test": "datum.k == 'neg'", "value": "#4a4aff"}], "value": "#333333"}}}
 ]}
]}
]},
{"spacing": 27, "align": "none", "resolve": {"scale": {"color": "independent"}, "legend": {"color": "independent"}}, "hconcat": [
{"spacing": 7, "align": "none", "resolve": {"scale": {"color": "independent"}, "legend": {"color": "independent"}}, "hconcat": [
{"width": 11, "height": 20, "view": {"stroke": "transparent", "fill": "transparent"}, "title": {"text": "B", "anchor": "start", "baseline": "top", "offset": -17, "fontSize": 17, "fontWeight": "normal", "color": "#111111"}, "data": {"values": []}, "mark": "rule", "encoding": {}},
{"spacing": 0, "bounds": "flush", "vconcat": [
 {"width": 208, "height": 17, "view": {"stroke": "transparent", "fill": "transparent"}, "title": {"text": "Enrichment plot: KEGG_APOPTOSIS", "baseline": "top", "offset": -8.7, "dx": -10}, "data": {"values": []}, "mark": "rule", "encoding": {}},
 {"width": 208, "height": 89, "data": {"name": "es"}, "transform": [{"filter": "datum.p == 'B1'"}], "mark": {"type": "line", "strokeWidth": 1.3},
  "encoding": {"x": {"field": "r", "type": "quantitative", "scale": {"domain": [0, 12300], "nice": false}, "axis": {"values": [0,2000,4000,6000,8000,10000,12000], "labels": false, "ticks": false, "title": null}},
   "y": {"field": "e", "type": "quantitative", "scale": {"domain": [-0.092, 0.466], "nice": false, "zero": false}, "axis": {"values": [0,0.1,0.2,0.3,0.4], "format": ".1f", "labelOverlap": false, "title": "Enrichment score (ES)", "gridColor": {"condition": {"test": "datum.value === 0", "value": "#8c8c8c"}, "value": "#e2e2e2"}}},
   "color": {"datum": "Enrichment profile"}}},
 {"width": 208, "height": 31, "data": {"name": "hits"}, "transform": [{"filter": "datum.p == 'B1'"}], "mark": {"type": "rule", "strokeWidth": 0.6},
  "encoding": {"x": {"field": "r", "type": "quantitative", "scale": {"domain": [0, 12300], "nice": false}, "axis": null}, "color": {"datum": "Hits"}}},
 {"width": 208, "height": 7, "data": {"name": "cbar"}, "transform": [{"filter": "datum.g == '12k'"}], "mark": {"type": "rect"},
  "encoding": {"x": {"field": "a", "type": "quantitative", "scale": {"domain": [0, 12300], "nice": false}, "axis": null}, "x2": {"field": "b"}, "fill": {"field": "lv", "type": "ordinal", "scale": {"domain": [1,2,3,4,5,6,7,8,9], "range": ["#ee3a44","#f15a60","#f48383","#f5b6de","#d6d6f8","#c4c4f3","#8a8aef","#5e5ee8","#2412c6"]}, "legend": null}}},
 {"width": 208, "height": 61, "layer": [
  {"data": {"name": "metric"}, "transform": [{"filter": "datum.g == '12k'"}], "mark": {"type": "area"},
   "encoding": {"x": {"field": "r", "type": "quantitative", "scale": {"domain": [0, 12300], "nice": false}, "axis": {"values": [0,2000,4000,6000,8000,10000,12000], "format": ",d", "labelOverlap": false, "title": "Rank in Ordered Dataset", "titleFontSize": 5.2}},
    "y": {"field": "m", "type": "quantitative", "scale": {"domain": [-0.733, 0.685], "nice": false, "zero": false}, "axis": {"values": [-0.6,-0.4,-0.2,0,0.2,0.4,0.6], "format": ".1f", "labelOverlap": false, "title": "Ranked list metric (Signal2Noise)", "titleFontSize": 5.8, "gridColor": {"condition": {"test": "datum.value === 0", "value": "#8c8c8c"}, "value": "#e2e2e2"}}},
    "color": {"datum": "Ranking metric scores"}}},
  {"data": {"name": "ann"}, "transform": [{"filter": "datum.g == '12k' && datum.k == 'zero'"}], "mark": {"type": "rule", "strokeDash": [2, 2], "color": "#9a9a9a", "strokeWidth": 0.6}, "encoding": {"x": {"field": "r", "type": "quantitative"}}},
  {"data": {"name": "ann"}, "transform": [{"filter": "datum.g == '12k'"}], "mark": {"type": "text", "fontSize": 4.6},
   "encoding": {"x": {"field": "r", "type": "quantitative"}, "y": {"field": "m", "type": "quantitative"}, "text": {"field": "t"}, "color": {"condition": [{"test": "datum.k == 'pos'", "value": "#ff3030"}, {"test": "datum.k == 'neg'", "value": "#4a4aff"}], "value": "#333333"}}}
 ]}
]}
]},
{"spacing": 0, "bounds": "flush", "vconcat": [
 {"width": 208, "height": 17, "view": {"stroke": "transparent", "fill": "transparent"}, "title": {"text": "Enrichment plot: KEGG_CHRONIC_MYELOID_LEUKEMIA", "baseline": "top", "offset": -8.7, "dx": -10}, "data": {"values": []}, "mark": "rule", "encoding": {}},
 {"width": 208, "height": 89, "data": {"name": "es"}, "transform": [{"filter": "datum.p == 'B2'"}], "mark": {"type": "line", "strokeWidth": 1.3},
  "encoding": {"x": {"field": "r", "type": "quantitative", "scale": {"domain": [0, 12300], "nice": false}, "axis": {"values": [0,2000,4000,6000,8000,10000,12000], "labels": false, "ticks": false, "title": null}},
   "y": {"field": "e", "type": "quantitative", "scale": {"domain": [-0.032, 0.547], "nice": false, "zero": false}, "axis": {"values": [0,0.1,0.2,0.3,0.4,0.5], "format": ".1f", "labelOverlap": false, "title": "Enrichment score (ES)", "gridColor": {"condition": {"test": "datum.value === 0", "value": "#8c8c8c"}, "value": "#e2e2e2"}}},
   "color": {"datum": "Enrichment profile"}}},
 {"width": 208, "height": 31, "data": {"name": "hits"}, "transform": [{"filter": "datum.p == 'B2'"}], "mark": {"type": "rule", "strokeWidth": 0.6},
  "encoding": {"x": {"field": "r", "type": "quantitative", "scale": {"domain": [0, 12300], "nice": false}, "axis": null}, "color": {"datum": "Hits"}}},
 {"width": 208, "height": 7, "data": {"name": "cbar"}, "transform": [{"filter": "datum.g == '12k'"}], "mark": {"type": "rect"},
  "encoding": {"x": {"field": "a", "type": "quantitative", "scale": {"domain": [0, 12300], "nice": false}, "axis": null}, "x2": {"field": "b"}, "fill": {"field": "lv", "type": "ordinal", "scale": {"domain": [1,2,3,4,5,6,7,8,9], "range": ["#ee3a44","#f15a60","#f48383","#f5b6de","#d6d6f8","#c4c4f3","#8a8aef","#5e5ee8","#2412c6"]}, "legend": null}}},
 {"width": 208, "height": 61, "layer": [
  {"data": {"name": "metric"}, "transform": [{"filter": "datum.g == '12k'"}], "mark": {"type": "area"},
   "encoding": {"x": {"field": "r", "type": "quantitative", "scale": {"domain": [0, 12300], "nice": false}, "axis": {"values": [0,2000,4000,6000,8000,10000,12000], "format": ",d", "labelOverlap": false, "title": "Rank in Ordered Dataset", "titleFontSize": 5.2}},
    "y": {"field": "m", "type": "quantitative", "scale": {"domain": [-0.733, 0.685], "nice": false, "zero": false}, "axis": {"values": [-0.6,-0.4,-0.2,0,0.2,0.4,0.6], "format": ".1f", "labelOverlap": false, "title": "Ranked list metric (Signal2Noise)", "titleFontSize": 5.8, "gridColor": {"condition": {"test": "datum.value === 0", "value": "#8c8c8c"}, "value": "#e2e2e2"}}},
    "color": {"datum": "Ranking metric scores"}}},
  {"data": {"name": "ann"}, "transform": [{"filter": "datum.g == '12k' && datum.k == 'zero'"}], "mark": {"type": "rule", "strokeDash": [2, 2], "color": "#9a9a9a", "strokeWidth": 0.6}, "encoding": {"x": {"field": "r", "type": "quantitative"}}},
  {"data": {"name": "ann"}, "transform": [{"filter": "datum.g == '12k'"}], "mark": {"type": "text", "fontSize": 4.6},
   "encoding": {"x": {"field": "r", "type": "quantitative"}, "y": {"field": "m", "type": "quantitative"}, "text": {"field": "t"}, "color": {"condition": [{"test": "datum.k == 'pos'", "value": "#ff3030"}, {"test": "datum.k == 'neg'", "value": "#4a4aff"}], "value": "#333333"}}}
 ]}
]},
{"spacing": 0, "bounds": "flush", "vconcat": [
 {"width": 208, "height": 17, "view": {"stroke": "transparent", "fill": "transparent"}, "title": {"text": "Enrichment plot: KEGG_COLORECTAL_CANCER", "baseline": "top", "offset": -8.7, "dx": -10}, "data": {"values": []}, "mark": "rule", "encoding": {}},
 {"width": 208, "height": 89, "data": {"name": "es"}, "transform": [{"filter": "datum.p == 'B3'"}], "mark": {"type": "line", "strokeWidth": 1.3},
  "encoding": {"x": {"field": "r", "type": "quantitative", "scale": {"domain": [0, 12300], "nice": false}, "axis": {"values": [0,2000,4000,6000,8000,10000,12000], "labels": false, "ticks": false, "title": null}},
   "y": {"field": "e", "type": "quantitative", "scale": {"domain": [-0.028, 0.465], "nice": false, "zero": false}, "axis": {"values": [0,0.1,0.2,0.3,0.4], "format": ".1f", "labelOverlap": false, "title": "Enrichment score (ES)", "gridColor": {"condition": {"test": "datum.value === 0", "value": "#8c8c8c"}, "value": "#e2e2e2"}}},
   "color": {"datum": "Enrichment profile"}}},
 {"width": 208, "height": 31, "data": {"name": "hits"}, "transform": [{"filter": "datum.p == 'B3'"}], "mark": {"type": "rule", "strokeWidth": 0.6},
  "encoding": {"x": {"field": "r", "type": "quantitative", "scale": {"domain": [0, 12300], "nice": false}, "axis": null}, "color": {"datum": "Hits"}}},
 {"width": 208, "height": 7, "data": {"name": "cbar"}, "transform": [{"filter": "datum.g == '12k'"}], "mark": {"type": "rect"},
  "encoding": {"x": {"field": "a", "type": "quantitative", "scale": {"domain": [0, 12300], "nice": false}, "axis": null}, "x2": {"field": "b"}, "fill": {"field": "lv", "type": "ordinal", "scale": {"domain": [1,2,3,4,5,6,7,8,9], "range": ["#ee3a44","#f15a60","#f48383","#f5b6de","#d6d6f8","#c4c4f3","#8a8aef","#5e5ee8","#2412c6"]}, "legend": null}}},
 {"width": 208, "height": 61, "layer": [
  {"data": {"name": "metric"}, "transform": [{"filter": "datum.g == '12k'"}], "mark": {"type": "area"},
   "encoding": {"x": {"field": "r", "type": "quantitative", "scale": {"domain": [0, 12300], "nice": false}, "axis": {"values": [0,2000,4000,6000,8000,10000,12000], "format": ",d", "labelOverlap": false, "title": "Rank in Ordered Dataset", "titleFontSize": 5.2}},
    "y": {"field": "m", "type": "quantitative", "scale": {"domain": [-0.733, 0.685], "nice": false, "zero": false}, "axis": {"values": [-0.6,-0.4,-0.2,0,0.2,0.4,0.6], "format": ".1f", "labelOverlap": false, "title": "Ranked list metric (Signal2Noise)", "titleFontSize": 5.8, "gridColor": {"condition": {"test": "datum.value === 0", "value": "#8c8c8c"}, "value": "#e2e2e2"}}},
    "color": {"datum": "Ranking metric scores"}}},
  {"data": {"name": "ann"}, "transform": [{"filter": "datum.g == '12k' && datum.k == 'zero'"}], "mark": {"type": "rule", "strokeDash": [2, 2], "color": "#9a9a9a", "strokeWidth": 0.6}, "encoding": {"x": {"field": "r", "type": "quantitative"}}},
  {"data": {"name": "ann"}, "transform": [{"filter": "datum.g == '12k'"}], "mark": {"type": "text", "fontSize": 4.6},
   "encoding": {"x": {"field": "r", "type": "quantitative"}, "y": {"field": "m", "type": "quantitative"}, "text": {"field": "t"}, "color": {"condition": [{"test": "datum.k == 'pos'", "value": "#ff3030"}, {"test": "datum.k == 'neg'", "value": "#4a4aff"}], "value": "#333333"}}}
 ]}
]}
]},
{"spacing": 29, "align": "none", "resolve": {"scale": {"color": "independent"}, "legend": {"color": "independent"}}, "hconcat": [
{"spacing": 7, "align": "none", "resolve": {"scale": {"color": "independent"}, "legend": {"color": "independent"}}, "hconcat": [
{"width": 11, "height": 20, "view": {"stroke": "transparent", "fill": "transparent"}, "data": {"values": []}, "mark": "rule", "encoding": {}},
{"spacing": 0, "bounds": "flush", "vconcat": [
 {"width": 208, "height": 14, "view": {"stroke": "transparent", "fill": "transparent"}, "title": {"text": "Enrichment plot: KEGG_GLIOMA", "baseline": "top", "offset": -8.7, "dx": -10}, "data": {"values": []}, "mark": "rule", "encoding": {}},
 {"width": 208, "height": 92, "data": {"name": "es"}, "transform": [{"filter": "datum.p == 'B4'"}], "mark": {"type": "line", "strokeWidth": 1.3},
  "encoding": {"x": {"field": "r", "type": "quantitative", "scale": {"domain": [0, 12300], "nice": false}, "axis": {"values": [0,2000,4000,6000,8000,10000,12000], "labels": false, "ticks": false, "title": null}},
   "y": {"field": "e", "type": "quantitative", "scale": {"domain": [-0.18, 0.431], "nice": false, "zero": false}, "axis": {"values": [-0.1,0,0.1,0.2,0.3,0.4], "format": ".1f", "labelOverlap": false, "title": "Enrichment score (ES)", "gridColor": {"condition": {"test": "datum.value === 0", "value": "#8c8c8c"}, "value": "#e2e2e2"}}},
   "color": {"datum": "Enrichment profile"}}},
 {"width": 208, "height": 30, "data": {"name": "hits"}, "transform": [{"filter": "datum.p == 'B4'"}], "mark": {"type": "rule", "strokeWidth": 0.6},
  "encoding": {"x": {"field": "r", "type": "quantitative", "scale": {"domain": [0, 12300], "nice": false}, "axis": null}, "color": {"datum": "Hits"}}},
 {"width": 208, "height": 8, "data": {"name": "cbar"}, "transform": [{"filter": "datum.g == '12k'"}], "mark": {"type": "rect"},
  "encoding": {"x": {"field": "a", "type": "quantitative", "scale": {"domain": [0, 12300], "nice": false}, "axis": null}, "x2": {"field": "b"}, "fill": {"field": "lv", "type": "ordinal", "scale": {"domain": [1,2,3,4,5,6,7,8,9], "range": ["#ee3a44","#f15a60","#f48383","#f5b6de","#d6d6f8","#c4c4f3","#8a8aef","#5e5ee8","#2412c6"]}, "legend": null}}},
 {"width": 208, "height": 62, "layer": [
  {"data": {"name": "metric"}, "transform": [{"filter": "datum.g == '12k'"}], "mark": {"type": "area"},
   "encoding": {"x": {"field": "r", "type": "quantitative", "scale": {"domain": [0, 12300], "nice": false}, "axis": {"values": [0,2000,4000,6000,8000,10000,12000], "format": ",d", "labelOverlap": false, "title": "Rank in Ordered Dataset", "titleFontSize": 5.2}},
    "y": {"field": "m", "type": "quantitative", "scale": {"domain": [-0.74, 0.68], "nice": false, "zero": false}, "axis": {"values": [-0.6,-0.4,-0.2,0,0.2,0.4,0.6], "format": ".1f", "labelOverlap": false, "title": "Ranked list metric (Signal2Noise)", "titleFontSize": 5.8, "gridColor": {"condition": {"test": "datum.value === 0", "value": "#8c8c8c"}, "value": "#e2e2e2"}}},
    "color": {"datum": "Ranking metric scores"}}},
  {"data": {"name": "ann"}, "transform": [{"filter": "datum.g == '12k' && datum.k == 'zero'"}], "mark": {"type": "rule", "strokeDash": [2, 2], "color": "#9a9a9a", "strokeWidth": 0.6}, "encoding": {"x": {"field": "r", "type": "quantitative"}}},
  {"data": {"name": "ann"}, "transform": [{"filter": "datum.g == '12k'"}], "mark": {"type": "text", "fontSize": 4.6},
   "encoding": {"x": {"field": "r", "type": "quantitative"}, "y": {"field": "m", "type": "quantitative"}, "text": {"field": "t"}, "color": {"condition": [{"test": "datum.k == 'pos'", "value": "#ff3030"}, {"test": "datum.k == 'neg'", "value": "#4a4aff"}], "value": "#333333"}}}
 ]}
]}
]},
{"spacing": 0, "bounds": "flush", "vconcat": [
 {"width": 208, "height": 14, "view": {"stroke": "transparent", "fill": "transparent"}, "title": {"text": "Enrichment plot: KEGG_PANCREATIC_CANCER", "baseline": "top", "offset": -8.7, "dx": -10}, "data": {"values": []}, "mark": "rule", "encoding": {}},
 {"width": 208, "height": 92, "data": {"name": "es"}, "transform": [{"filter": "datum.p == 'B5'"}], "mark": {"type": "line", "strokeWidth": 1.3},
  "encoding": {"x": {"field": "r", "type": "quantitative", "scale": {"domain": [0, 12300], "nice": false}, "axis": {"values": [0,2000,4000,6000,8000,10000,12000], "labels": false, "ticks": false, "title": null}},
   "y": {"field": "e", "type": "quantitative", "scale": {"domain": [-0.111, 0.5], "nice": false, "zero": false}, "axis": {"values": [-0.1,0,0.1,0.2,0.3,0.4], "format": ".1f", "labelOverlap": false, "title": "Enrichment score (ES)", "gridColor": {"condition": {"test": "datum.value === 0", "value": "#8c8c8c"}, "value": "#e2e2e2"}}},
   "color": {"datum": "Enrichment profile"}}},
 {"width": 208, "height": 30, "data": {"name": "hits"}, "transform": [{"filter": "datum.p == 'B5'"}], "mark": {"type": "rule", "strokeWidth": 0.6},
  "encoding": {"x": {"field": "r", "type": "quantitative", "scale": {"domain": [0, 12300], "nice": false}, "axis": null}, "color": {"datum": "Hits"}}},
 {"width": 208, "height": 8, "data": {"name": "cbar"}, "transform": [{"filter": "datum.g == '12k'"}], "mark": {"type": "rect"},
  "encoding": {"x": {"field": "a", "type": "quantitative", "scale": {"domain": [0, 12300], "nice": false}, "axis": null}, "x2": {"field": "b"}, "fill": {"field": "lv", "type": "ordinal", "scale": {"domain": [1,2,3,4,5,6,7,8,9], "range": ["#ee3a44","#f15a60","#f48383","#f5b6de","#d6d6f8","#c4c4f3","#8a8aef","#5e5ee8","#2412c6"]}, "legend": null}}},
 {"width": 208, "height": 62, "layer": [
  {"data": {"name": "metric"}, "transform": [{"filter": "datum.g == '12k'"}], "mark": {"type": "area"},
   "encoding": {"x": {"field": "r", "type": "quantitative", "scale": {"domain": [0, 12300], "nice": false}, "axis": {"values": [0,2000,4000,6000,8000,10000,12000], "format": ",d", "labelOverlap": false, "title": "Rank in Ordered Dataset", "titleFontSize": 5.2}},
    "y": {"field": "m", "type": "quantitative", "scale": {"domain": [-0.74, 0.68], "nice": false, "zero": false}, "axis": {"values": [-0.6,-0.4,-0.2,0,0.2,0.4,0.6], "format": ".1f", "labelOverlap": false, "title": "Ranked list metric (Signal2Noise)", "titleFontSize": 5.8, "gridColor": {"condition": {"test": "datum.value === 0", "value": "#8c8c8c"}, "value": "#e2e2e2"}}},
    "color": {"datum": "Ranking metric scores"}}},
  {"data": {"name": "ann"}, "transform": [{"filter": "datum.g == '12k' && datum.k == 'zero'"}], "mark": {"type": "rule", "strokeDash": [2, 2], "color": "#9a9a9a", "strokeWidth": 0.6}, "encoding": {"x": {"field": "r", "type": "quantitative"}}},
  {"data": {"name": "ann"}, "transform": [{"filter": "datum.g == '12k'"}], "mark": {"type": "text", "fontSize": 4.6},
   "encoding": {"x": {"field": "r", "type": "quantitative"}, "y": {"field": "m", "type": "quantitative"}, "text": {"field": "t"}, "color": {"condition": [{"test": "datum.k == 'pos'", "value": "#ff3030"}, {"test": "datum.k == 'neg'", "value": "#4a4aff"}], "value": "#333333"}}}
 ]}
]}
]},
{"spacing": 11, "align": "none", "resolve": {"scale": {"color": "independent"}, "legend": {"color": "independent"}}, "hconcat": [
{"spacing": 4, "align": "none", "resolve": {"scale": {"color": "independent"}, "legend": {"color": "independent"}}, "hconcat": [
{"width": 11, "height": 20, "view": {"stroke": "transparent", "fill": "transparent"}, "title": {"text": "C", "anchor": "start", "baseline": "top", "offset": -17, "fontSize": 17, "fontWeight": "normal", "color": "#111111"}, "data": {"values": []}, "mark": "rule", "encoding": {}},
{"spacing": 0, "bounds": "flush", "vconcat": [
 {"width": 208, "height": 38, "view": {"stroke": "transparent", "fill": "transparent"}, "title": {"text": ["Enrichment plot:", "GOMF_REPRESSING_TRANSCRIPTION_FACTOR_BINDIN", "G"], "baseline": "top", "offset": -31.7, "dx": -10}, "data": {"values": []}, "mark": "rule", "encoding": {}},
 {"width": 208, "height": 81, "data": {"name": "es"}, "transform": [{"filter": "datum.p == 'C'"}], "mark": {"type": "line", "strokeWidth": 1.3},
  "encoding": {"x": {"field": "r", "type": "quantitative", "scale": {"domain": [0, 12300], "nice": false}, "axis": {"values": [0,2000,4000,6000,8000,10000,12000], "labels": false, "ticks": false, "title": null}},
   "y": {"field": "e", "type": "quantitative", "scale": {"domain": [-0.033, 0.511], "nice": false, "zero": false}, "axis": {"values": [0,0.1,0.2,0.3,0.4,0.5], "format": ".1f", "labelOverlap": false, "title": "Enrichment score (ES)", "gridColor": {"condition": {"test": "datum.value === 0", "value": "#8c8c8c"}, "value": "#e2e2e2"}}},
   "color": {"datum": "Enrichment profile"}}},
 {"width": 208, "height": 26, "data": {"name": "hits"}, "transform": [{"filter": "datum.p == 'C'"}], "mark": {"type": "rule", "strokeWidth": 0.6},
  "encoding": {"x": {"field": "r", "type": "quantitative", "scale": {"domain": [0, 12300], "nice": false}, "axis": null}, "color": {"datum": "Hits"}}},
 {"width": 208, "height": 7, "data": {"name": "cbar"}, "transform": [{"filter": "datum.g == '12k'"}], "mark": {"type": "rect"},
  "encoding": {"x": {"field": "a", "type": "quantitative", "scale": {"domain": [0, 12300], "nice": false}, "axis": null}, "x2": {"field": "b"}, "fill": {"field": "lv", "type": "ordinal", "scale": {"domain": [1,2,3,4,5,6,7,8,9], "range": ["#ee3a44","#f15a60","#f48383","#f5b6de","#d6d6f8","#c4c4f3","#8a8aef","#5e5ee8","#2412c6"]}, "legend": null}}},
 {"width": 208, "height": 56, "layer": [
  {"data": {"name": "metric"}, "transform": [{"filter": "datum.g == '12k'"}], "mark": {"type": "area"},
   "encoding": {"x": {"field": "r", "type": "quantitative", "scale": {"domain": [0, 12300], "nice": false}, "axis": {"values": [0,2000,4000,6000,8000,10000,12000], "format": ",d", "labelOverlap": false, "title": "Rank in Ordered Dataset", "titleFontSize": 5.2}},
    "y": {"field": "m", "type": "quantitative", "scale": {"domain": [-0.79, 0.67], "nice": false, "zero": false}, "axis": {"values": [-0.5,0,0.5], "format": ".1f", "labelOverlap": false, "title": "Ranked list metric (Signal2Noise)", "titleFontSize": 5.8, "gridColor": {"condition": {"test": "datum.value === 0", "value": "#8c8c8c"}, "value": "#e2e2e2"}}},
    "color": {"datum": "Ranking metric scores"}}},
  {"data": {"name": "ann"}, "transform": [{"filter": "datum.g == '12k' && datum.k == 'zero'"}], "mark": {"type": "rule", "strokeDash": [2, 2], "color": "#9a9a9a", "strokeWidth": 0.6}, "encoding": {"x": {"field": "r", "type": "quantitative"}}},
  {"data": {"name": "ann"}, "transform": [{"filter": "datum.g == '12k'"}], "mark": {"type": "text", "fontSize": 4.6},
   "encoding": {"x": {"field": "r", "type": "quantitative"}, "y": {"field": "m", "type": "quantitative"}, "text": {"field": "t"}, "color": {"condition": [{"test": "datum.k == 'pos'", "value": "#ff3030"}, {"test": "datum.k == 'neg'", "value": "#4a4aff"}], "value": "#333333"}}}
 ]}
]}
]},
{"spacing": 0, "align": "none", "resolve": {"scale": {"color": "independent"}, "legend": {"color": "independent"}}, "hconcat": [
{"width": 11, "height": 20, "view": {"stroke": "transparent", "fill": "transparent"}, "title": {"text": "D", "anchor": "start", "baseline": "top", "offset": -17, "fontSize": 17, "fontWeight": "normal", "color": "#111111"}, "data": {"values": []}, "mark": "rule", "encoding": {}},
{"spacing": 0, "bounds": "flush", "vconcat": [
 {"width": 208, "height": 16, "view": {"stroke": "transparent", "fill": "transparent"}, "title": {"text": "Enrichment plot: HP_ASTROCYTOMA", "baseline": "top", "offset": -8.7, "dx": -10}, "data": {"values": []}, "mark": "rule", "encoding": {}},
 {"width": 208, "height": 91, "data": {"name": "es"}, "transform": [{"filter": "datum.p == 'D'"}], "mark": {"type": "line", "strokeWidth": 1.3},
  "encoding": {"x": {"field": "r", "type": "quantitative", "scale": {"domain": [0, 10700], "nice": false}, "axis": {"values": [0,2000,4000,6000,8000,10000], "labels": false, "ticks": false, "title": null}},
   "y": {"field": "e", "type": "quantitative", "scale": {"domain": [-0.036, 0.516], "nice": false, "zero": false}, "axis": {"values": [0,0.1,0.2,0.3,0.4,0.5], "format": ".1f", "labelOverlap": false, "title": "Enrichment score (ES)", "gridColor": {"condition": {"test": "datum.value === 0", "value": "#8c8c8c"}, "value": "#e2e2e2"}}},
   "color": {"datum": "Enrichment profile"}}},
 {"width": 208, "height": 29, "data": {"name": "hits"}, "transform": [{"filter": "datum.p == 'D'"}], "mark": {"type": "rule", "strokeWidth": 0.6},
  "encoding": {"x": {"field": "r", "type": "quantitative", "scale": {"domain": [0, 10700], "nice": false}, "axis": null}, "color": {"datum": "Hits"}}},
 {"width": 208, "height": 8, "data": {"name": "cbar"}, "transform": [{"filter": "datum.g == '10k'"}], "mark": {"type": "rect"},
  "encoding": {"x": {"field": "a", "type": "quantitative", "scale": {"domain": [0, 10700], "nice": false}, "axis": null}, "x2": {"field": "b"}, "fill": {"field": "lv", "type": "ordinal", "scale": {"domain": [1,2,3,4,5,6,7,8,9], "range": ["#ee3a44","#f15a60","#f48383","#f5b6de","#d6d6f8","#c4c4f3","#8a8aef","#5e5ee8","#2412c6"]}, "legend": null}}},
 {"width": 208, "height": 64, "layer": [
  {"data": {"name": "metric"}, "transform": [{"filter": "datum.g == '10k'"}], "mark": {"type": "area"},
   "encoding": {"x": {"field": "r", "type": "quantitative", "scale": {"domain": [0, 10700], "nice": false}, "axis": {"values": [0,2000,4000,6000,8000,10000], "format": ",d", "labelOverlap": false, "title": "Rank in Ordered Dataset", "titleFontSize": 5.2}},
    "y": {"field": "m", "type": "quantitative", "scale": {"domain": [-0.775, 0.43], "nice": false, "zero": false}, "axis": {"values": [-0.6,-0.4,-0.2,0,0.2,0.4], "format": ".1f", "labelOverlap": false, "title": "Ranked list metric (Signal2Noise)", "titleFontSize": 5.8, "gridColor": {"condition": {"test": "datum.value === 0", "value": "#8c8c8c"}, "value": "#e2e2e2"}}},
    "color": {"datum": "Ranking metric scores"}}},
  {"data": {"name": "ann"}, "transform": [{"filter": "datum.g == '10k' && datum.k == 'zero'"}], "mark": {"type": "rule", "strokeDash": [2, 2], "color": "#9a9a9a", "strokeWidth": 0.6}, "encoding": {"x": {"field": "r", "type": "quantitative"}}},
  {"data": {"name": "ann"}, "transform": [{"filter": "datum.g == '10k'"}], "mark": {"type": "text", "fontSize": 4.6},
   "encoding": {"x": {"field": "r", "type": "quantitative"}, "y": {"field": "m", "type": "quantitative"}, "text": {"field": "t"}, "color": {"condition": [{"test": "datum.k == 'pos'", "value": "#ff3030"}, {"test": "datum.k == 'neg'", "value": "#4a4aff"}], "value": "#333333"}}}
 ]}
]}
]},
{"spacing": 7, "align": "none", "resolve": {"scale": {"color": "independent"}, "legend": {"color": "independent"}}, "hconcat": [
{"width": 11, "height": 20, "view": {"stroke": "transparent", "fill": "transparent"}, "title": {"text": "E", "anchor": "start", "baseline": "top", "offset": -17, "fontSize": 17, "fontWeight": "normal", "color": "#111111"}, "data": {"values": []}, "mark": "rule", "encoding": {}},
{"spacing": 0, "bounds": "flush", "vconcat": [
 {"width": 208, "height": 16, "view": {"stroke": "transparent", "fill": "transparent"}, "title": {"text": "Enrichment plot: HP_ADDICTIVE_BEHAVIOR", "baseline": "top", "offset": -8.7, "dx": -10}, "data": {"values": []}, "mark": "rule", "encoding": {}},
 {"width": 208, "height": 91, "data": {"name": "es"}, "transform": [{"filter": "datum.p == 'E'"}], "mark": {"type": "line", "strokeWidth": 1.3},
  "encoding": {"x": {"field": "r", "type": "quantitative", "scale": {"domain": [0, 10700], "nice": false}, "axis": {"values": [0,2000,4000,6000,8000,10000], "labels": false, "ticks": false, "title": null}},
   "y": {"field": "e", "type": "quantitative", "scale": {"domain": [-0.626, 0.019], "nice": false, "zero": false}, "axis": {"values": [-0.6,-0.5,-0.4,-0.3,-0.2,-0.1,0], "format": ".1f", "labelOverlap": false, "title": "Enrichment score (ES)", "gridColor": {"condition": {"test": "datum.value === 0", "value": "#8c8c8c"}, "value": "#e2e2e2"}}},
   "color": {"datum": "Enrichment profile"}}},
 {"width": 208, "height": 29, "data": {"name": "hits"}, "transform": [{"filter": "datum.p == 'E'"}], "mark": {"type": "rule", "strokeWidth": 0.6},
  "encoding": {"x": {"field": "r", "type": "quantitative", "scale": {"domain": [0, 10700], "nice": false}, "axis": null}, "color": {"datum": "Hits"}}},
 {"width": 208, "height": 8, "data": {"name": "cbar"}, "transform": [{"filter": "datum.g == '10k'"}], "mark": {"type": "rect"},
  "encoding": {"x": {"field": "a", "type": "quantitative", "scale": {"domain": [0, 10700], "nice": false}, "axis": null}, "x2": {"field": "b"}, "fill": {"field": "lv", "type": "ordinal", "scale": {"domain": [1,2,3,4,5,6,7,8,9], "range": ["#ee3a44","#f15a60","#f48383","#f5b6de","#d6d6f8","#c4c4f3","#8a8aef","#5e5ee8","#2412c6"]}, "legend": null}}},
 {"width": 208, "height": 64, "layer": [
  {"data": {"name": "metric"}, "transform": [{"filter": "datum.g == '10k'"}], "mark": {"type": "area"},
   "encoding": {"x": {"field": "r", "type": "quantitative", "scale": {"domain": [0, 10700], "nice": false}, "axis": {"values": [0,2000,4000,6000,8000,10000], "format": ",d", "labelOverlap": false, "title": "Rank in Ordered Dataset", "titleFontSize": 5.2}},
    "y": {"field": "m", "type": "quantitative", "scale": {"domain": [-0.775, 0.43], "nice": false, "zero": false}, "axis": {"values": [-0.6,-0.4,-0.2,0,0.2,0.4], "format": ".1f", "labelOverlap": false, "title": "Ranked list metric (Signal2Noise)", "titleFontSize": 5.8, "gridColor": {"condition": {"test": "datum.value === 0", "value": "#8c8c8c"}, "value": "#e2e2e2"}}},
    "color": {"datum": "Ranking metric scores"}}},
  {"data": {"name": "ann"}, "transform": [{"filter": "datum.g == '10k' && datum.k == 'zero'"}], "mark": {"type": "rule", "strokeDash": [2, 2], "color": "#9a9a9a", "strokeWidth": 0.6}, "encoding": {"x": {"field": "r", "type": "quantitative"}}},
  {"data": {"name": "ann"}, "transform": [{"filter": "datum.g == '10k'"}], "mark": {"type": "text", "fontSize": 4.6},
   "encoding": {"x": {"field": "r", "type": "quantitative"}, "y": {"field": "m", "type": "quantitative"}, "text": {"field": "t"}, "color": {"condition": [{"test": "datum.k == 'pos'", "value": "#ff3030"}, {"test": "datum.k == 'neg'", "value": "#4a4aff"}], "value": "#333333"}}}
 ]}
]}
]}
]}
]
}
